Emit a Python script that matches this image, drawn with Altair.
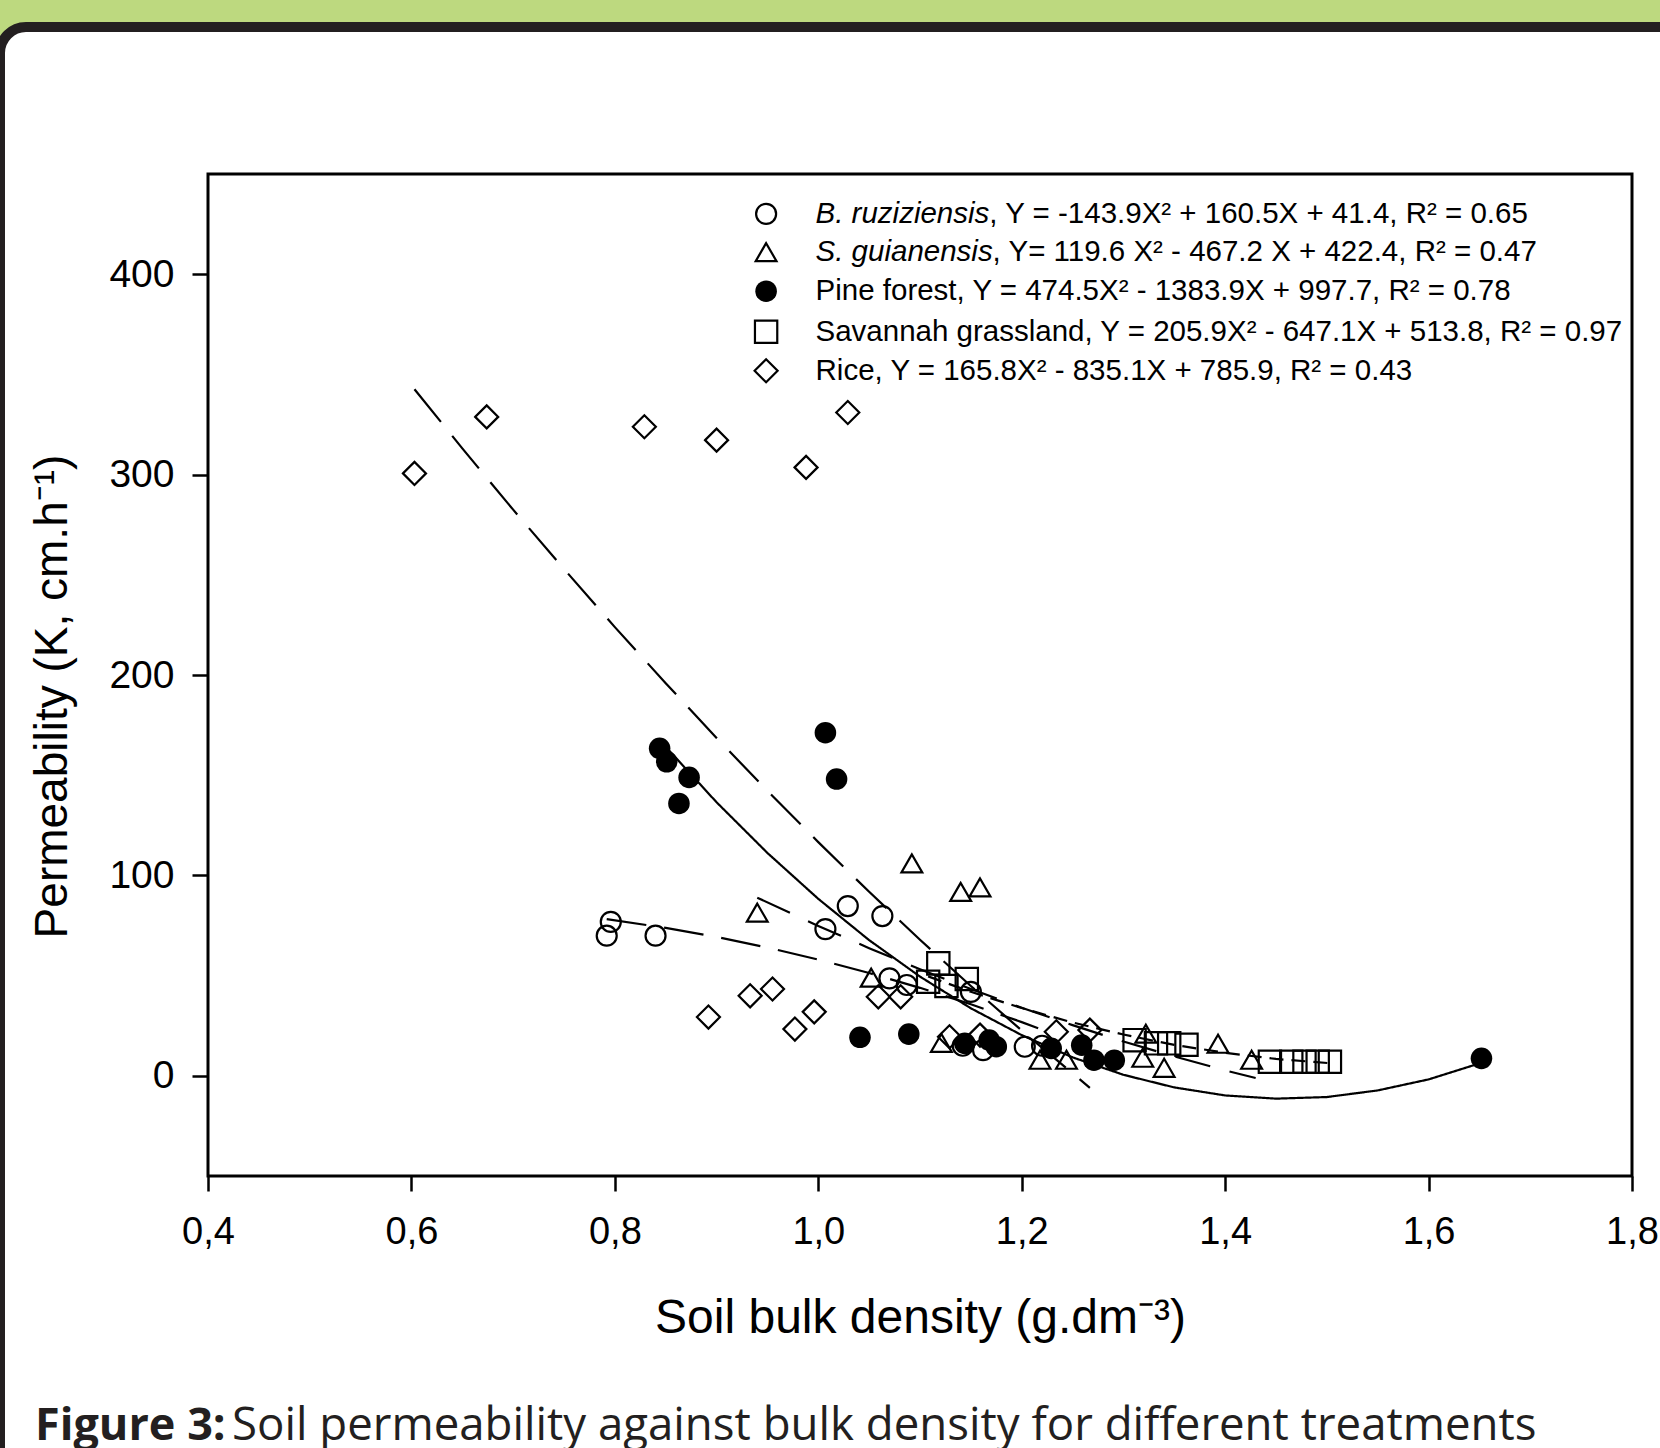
import altair as alt
import pandas as pd

# ---------------- data ----------------
SERIES = ["B. ruziziensis", "S. guianensis", "Pine forest", "Savannah grassland", "Rice"]
SHAPES = ["circle", "triangle-up", "circle", "square", "diamond"]
SIZES = [400, 530, 560, 380, 600]

bruz_x = [0.796, 0.792, 0.840, 1.007, 1.029, 1.063, 1.070, 1.087, 1.150, 1.142, 1.162, 1.203, 1.220]
bruz_y = [76.8, 69.9, 69.9, 73.2, 84.7, 79.7, 48.6, 45.3, 41.9, 15.0, 12.8, 14.5, 15.0]

sgui_x = [0.940, 1.052, 1.092, 1.140, 1.159, 1.121, 1.218, 1.244, 1.322, 1.319, 1.340, 1.393, 1.426]
sgui_y = [81.4, 49.0, 106.0, 91.8, 94.0, 16.4, 8.0, 8.0, 21.0, 9.0, 4.0, 16.0, 8.0]

pine_x = [0.844, 0.851, 0.873, 0.863, 1.007, 1.018, 1.041, 1.089, 1.144, 1.168, 1.175, 1.229, 1.259, 1.271, 1.291, 1.652]
pine_y = [163.4, 156.7, 148.9, 135.9, 171.2, 148.1, 19.2, 20.8, 16.2, 17.8, 14.5, 13.7, 15.3, 7.8, 7.8, 8.7]

sav_x = [1.118, 1.108, 1.126, 1.146, 1.311, 1.332, 1.345, 1.362, 1.444, 1.465, 1.478, 1.491, 1.503]
sav_y = [56.1, 46.9, 44.8, 48.3, 17.8, 16.2, 16.2, 15.5, 7.0, 7.0, 7.0, 7.0, 7.0]

rice_x = [0.603, 0.674, 0.829, 0.900, 0.988, 1.029, 0.892, 0.933, 0.955, 0.977, 0.996, 1.059, 1.081, 1.129, 1.159, 1.234, 1.267]
rice_y = [300.6, 328.8, 323.9, 317.2, 303.6, 331.0, 29.3, 39.9, 43.3, 23.3, 31.9, 39.4, 39.4, 19.5, 20.3, 22.0, 22.8]

# fitted curves, points
bruz_cx = [0.792, 0.85, 0.90, 0.95, 1.00, 1.05, 1.10, 1.15, 1.20, 1.22]
bruz_cy = [78.2, 73.8, 69.3, 64.0, 58.0, 51.3, 43.9, 35.7, 26.8, 23.0]

sgui_cx = [0.94, 1.00, 1.05, 1.10, 1.15, 1.20, 1.25, 1.30, 1.35, 1.40, 1.43]
sgui_cy = [88.9, 74.8, 63.7, 53.2, 43.3, 34.0, 25.3, 17.1, 9.7, 2.7, -1.1]

pine_cx = [0.85, 0.90, 0.95, 1.00, 1.05, 1.10, 1.15, 1.20, 1.25, 1.30, 1.35, 1.40, 1.45, 1.50, 1.55, 1.60, 1.652]
pine_cy = [164.2, 136.5, 111.2, 88.3, 67.7, 49.5, 33.7, 20.3, 9.2, 0.5, -5.8, -9.8, -11.4, -10.6, -7.3, -1.8, 6.5]

sav_cx = [1.108, 1.15, 1.20, 1.25, 1.30, 1.35, 1.40, 1.45, 1.503]
sav_cy = [49.6, 41.9, 33.8, 26.6, 20.6, 15.4, 11.5, 8.4, 6.3]

rice_cx = [0.603, 0.65, 0.70, 0.75, 0.80, 0.85, 0.90, 0.95, 1.00, 1.05, 1.10, 1.15, 1.20, 1.267]
rice_cy = [342.6, 313.1, 282.5, 252.9, 223.9, 195.9, 168.6, 142.2, 116.6, 91.8, 67.9, 44.8, 22.6, -6.0]

XTICKS = [0.4, 0.6, 0.8, 1.0, 1.2, 1.4, 1.6, 1.8]
YTICKS = [0, 100, 200, 300, 400]

LEG_ITALIC = ["B. ruziziensis", "S. guianensis", "", "", ""]
LEG_REST = [
    ", Y = -143.9X² + 160.5X + 41.4, R² = 0.65",
    ", Y= 119.6 X² - 467.2 X + 422.4, R² = 0.47",
    "Pine forest, Y = 474.5X² - 1383.9X + 997.7, R² = 0.78",
    "Savannah grassland, Y = 205.9X² - 647.1X + 513.8, R² = 0.97",
    "Rice, Y = 165.8X² - 835.1X + 785.9, R² = 0.43",
]
LEG_Y = [430.1, 411.0, 391.5, 371.3, 351.8]
LEG_SYM_X = 0.9487
LEG_TXT_X = 0.9973
LEG_REST_X = [1.1682, 1.1714, 0.9973, 0.9973, 0.9973]

CAPTION_BOLD = "Figure 3:"
CAPTION_REST = "Soil permeability against bulk density for different treatments"

# ---------------- tables ----------------
pts_rows = []
for s, xs, ys in zip(SERIES, [bruz_x, sgui_x, pine_x, sav_x, rice_x], [bruz_y, sgui_y, pine_y, sav_y, rice_y]):
    for a, b in zip(xs, ys):
        pts_rows.append({"series": s, "x": a, "y": b})
pts = pd.DataFrame(pts_rows)

crv_rows = []
for s, xs, ys in zip(SERIES, [bruz_cx, sgui_cx, pine_cx, sav_cx, rice_cx], [bruz_cy, sgui_cy, pine_cy, sav_cy, rice_cy]):
    for a, b in zip(xs, ys):
        crv_rows.append({"series": s, "x": a, "y": b})
crv = pd.DataFrame(crv_rows)

leg = pd.DataFrame({"series": SERIES, "x": [LEG_SYM_X] * 5, "y": LEG_Y})
leg_it = pd.DataFrame({"x": [LEG_TXT_X] * 2, "y": LEG_Y[:2], "t": LEG_ITALIC[:2]})
leg_rest = pd.DataFrame({"x": LEG_REST_X, "y": LEG_Y, "t": LEG_REST})

W, H = 1424, 1002
FONT = "Liberation Sans"
DARK = "#231F20"
LEG_FS = 29.5

xscale = alt.Scale(domain=[0.4, 1.8], nice=False, zero=False)
yscale = alt.Scale(domain=[-50, 450], nice=False, zero=False)

xaxis = alt.Axis(
    values=XTICKS,
    labelExpr="replace(format(datum.value, '.1f'), '.', ',')",
    title="Soil bulk density (g.dm⁻³)",
    titleFont=FONT, titleFontSize=48, titleFontWeight="normal", titleColor="black",
    titleX=W / 2, titleY=156, titleAlign="center", titleBaseline="alphabetic",
    labelFont=FONT, labelFontSize=38, labelColor="black", labelPadding=22,
    labelFlush=False, labelOverlap=False,
    tickSize=15, tickWidth=2.5, tickColor="black",
    domain=False, grid=False, zindex=1,
)
yaxis = alt.Axis(
    values=YTICKS, format="d",
    title="Permeability (K, cm.h⁻¹)",
    titleFont=FONT, titleFontSize=46, titleFontWeight="normal", titleColor="black",
    titleAngle=270, titleX=-142, titleY=522, titleAlign="center", titleBaseline="alphabetic",
    labelFont=FONT, labelFontSize=39, labelColor="black", labelPadding=18,
    labelOverlap=False,
    tickSize=16, tickWidth=2.5, tickColor="black",
    domain=False, grid=False, zindex=1,
)

X = alt.X("x:Q", scale=xscale, axis=xaxis)
Y = alt.Y("y:Q", scale=yscale, axis=yaxis)

shape = alt.Shape("series:N", scale=alt.Scale(domain=SERIES, range=SHAPES), legend=None)
size = alt.Size("series:N", scale=alt.Scale(domain=SERIES, range=SIZES), legend=None)

one = alt.Data(values=[{"a": 1}])

bg = alt.Chart(one).mark_rect(
    fill="white", stroke=DARK, strokeWidth=10, cornerRadius=26
).encode(x=alt.value(-208), x2=alt.value(1500), y=alt.value(-147), y2=alt.value(1330))

frame = alt.Chart(one).mark_rect(
    fill="white", fillOpacity=0, stroke="black", strokeWidth=3
).encode(x=alt.value(0), x2=alt.value(W), y=alt.value(0), y2=alt.value(H))

lines = alt.Chart(crv).mark_line(color="black").encode(
    x=X, y=Y, detail="series:N", order="x:Q",
    strokeDash=alt.StrokeDash("series:N", scale=alt.Scale(
        domain=SERIES, range=[[40, 18], [36, 20], [1, 0], [14, 8], [42, 18]]), legend=None),
    strokeWidth=alt.StrokeWidth("series:N", scale=alt.Scale(
        domain=SERIES, range=[2.2, 2.2, 1.5, 2.0, 2.2]), legend=None),
)

open_pts = alt.Chart(pts).transform_filter(alt.datum.series != "Pine forest").mark_point(
    filled=False, stroke="black", strokeWidth=2.2, opacity=1
).encode(x=X, y=Y, shape=shape, size=size)

pine_pts = alt.Chart(pts).transform_filter(alt.datum.series == "Pine forest").mark_point(
    filled=True, color="black", opacity=1
).encode(x=X, y=Y, shape=shape, size=size)

leg_open = alt.Chart(leg).transform_filter(alt.datum.series != "Pine forest").mark_point(
    filled=False, stroke="black", strokeWidth=2.2, opacity=1
).encode(x=X, y=Y, shape=shape, size=size)

leg_pine = alt.Chart(leg).transform_filter(alt.datum.series == "Pine forest").mark_point(
    filled=True, color="black", opacity=1
).encode(x=X, y=Y, shape=shape, size=size)

leg_t1 = alt.Chart(leg_it).mark_text(
    font=FONT, fontSize=LEG_FS, fontStyle="italic", align="left", baseline="middle", color="black"
).encode(x=X, y=Y, text="t:N")

leg_t2 = alt.Chart(leg_rest).mark_text(
    font=FONT, fontSize=LEG_FS, align="left", baseline="middle", color="black"
).encode(x=X, y=Y, text="t:N")

cap1 = alt.Chart(alt.Data(values=[{"t": CAPTION_BOLD}])).mark_text(
    font="Open Sans", fontSize=45, fontWeight="bold", align="left", baseline="alphabetic", color=DARK
).encode(x=alt.value(-173), y=alt.value(1266), text="t:N")

cap2 = alt.Chart(alt.Data(values=[{"t": CAPTION_REST}])).mark_text(
    font="Open Sans", fontSize=45.6, align="left", baseline="alphabetic", color=DARK
).encode(x=alt.value(24), y=alt.value(1266), text="t:N")

chart = alt.layer(
    bg, frame, lines, open_pts, pine_pts, leg_open, leg_pine, leg_t1, leg_t2, cap1, cap2
).properties(
    width=W, height=H,
    padding={"left": 208, "top": 174, "right": 28, "bottom": 272},
    autosize=alt.AutoSizeParams(type="none"),
    background="#BDD97F",
).configure_view(strokeWidth=0)

chart.save("out.html", embed_options={"renderer": "svg", "actions": False})
